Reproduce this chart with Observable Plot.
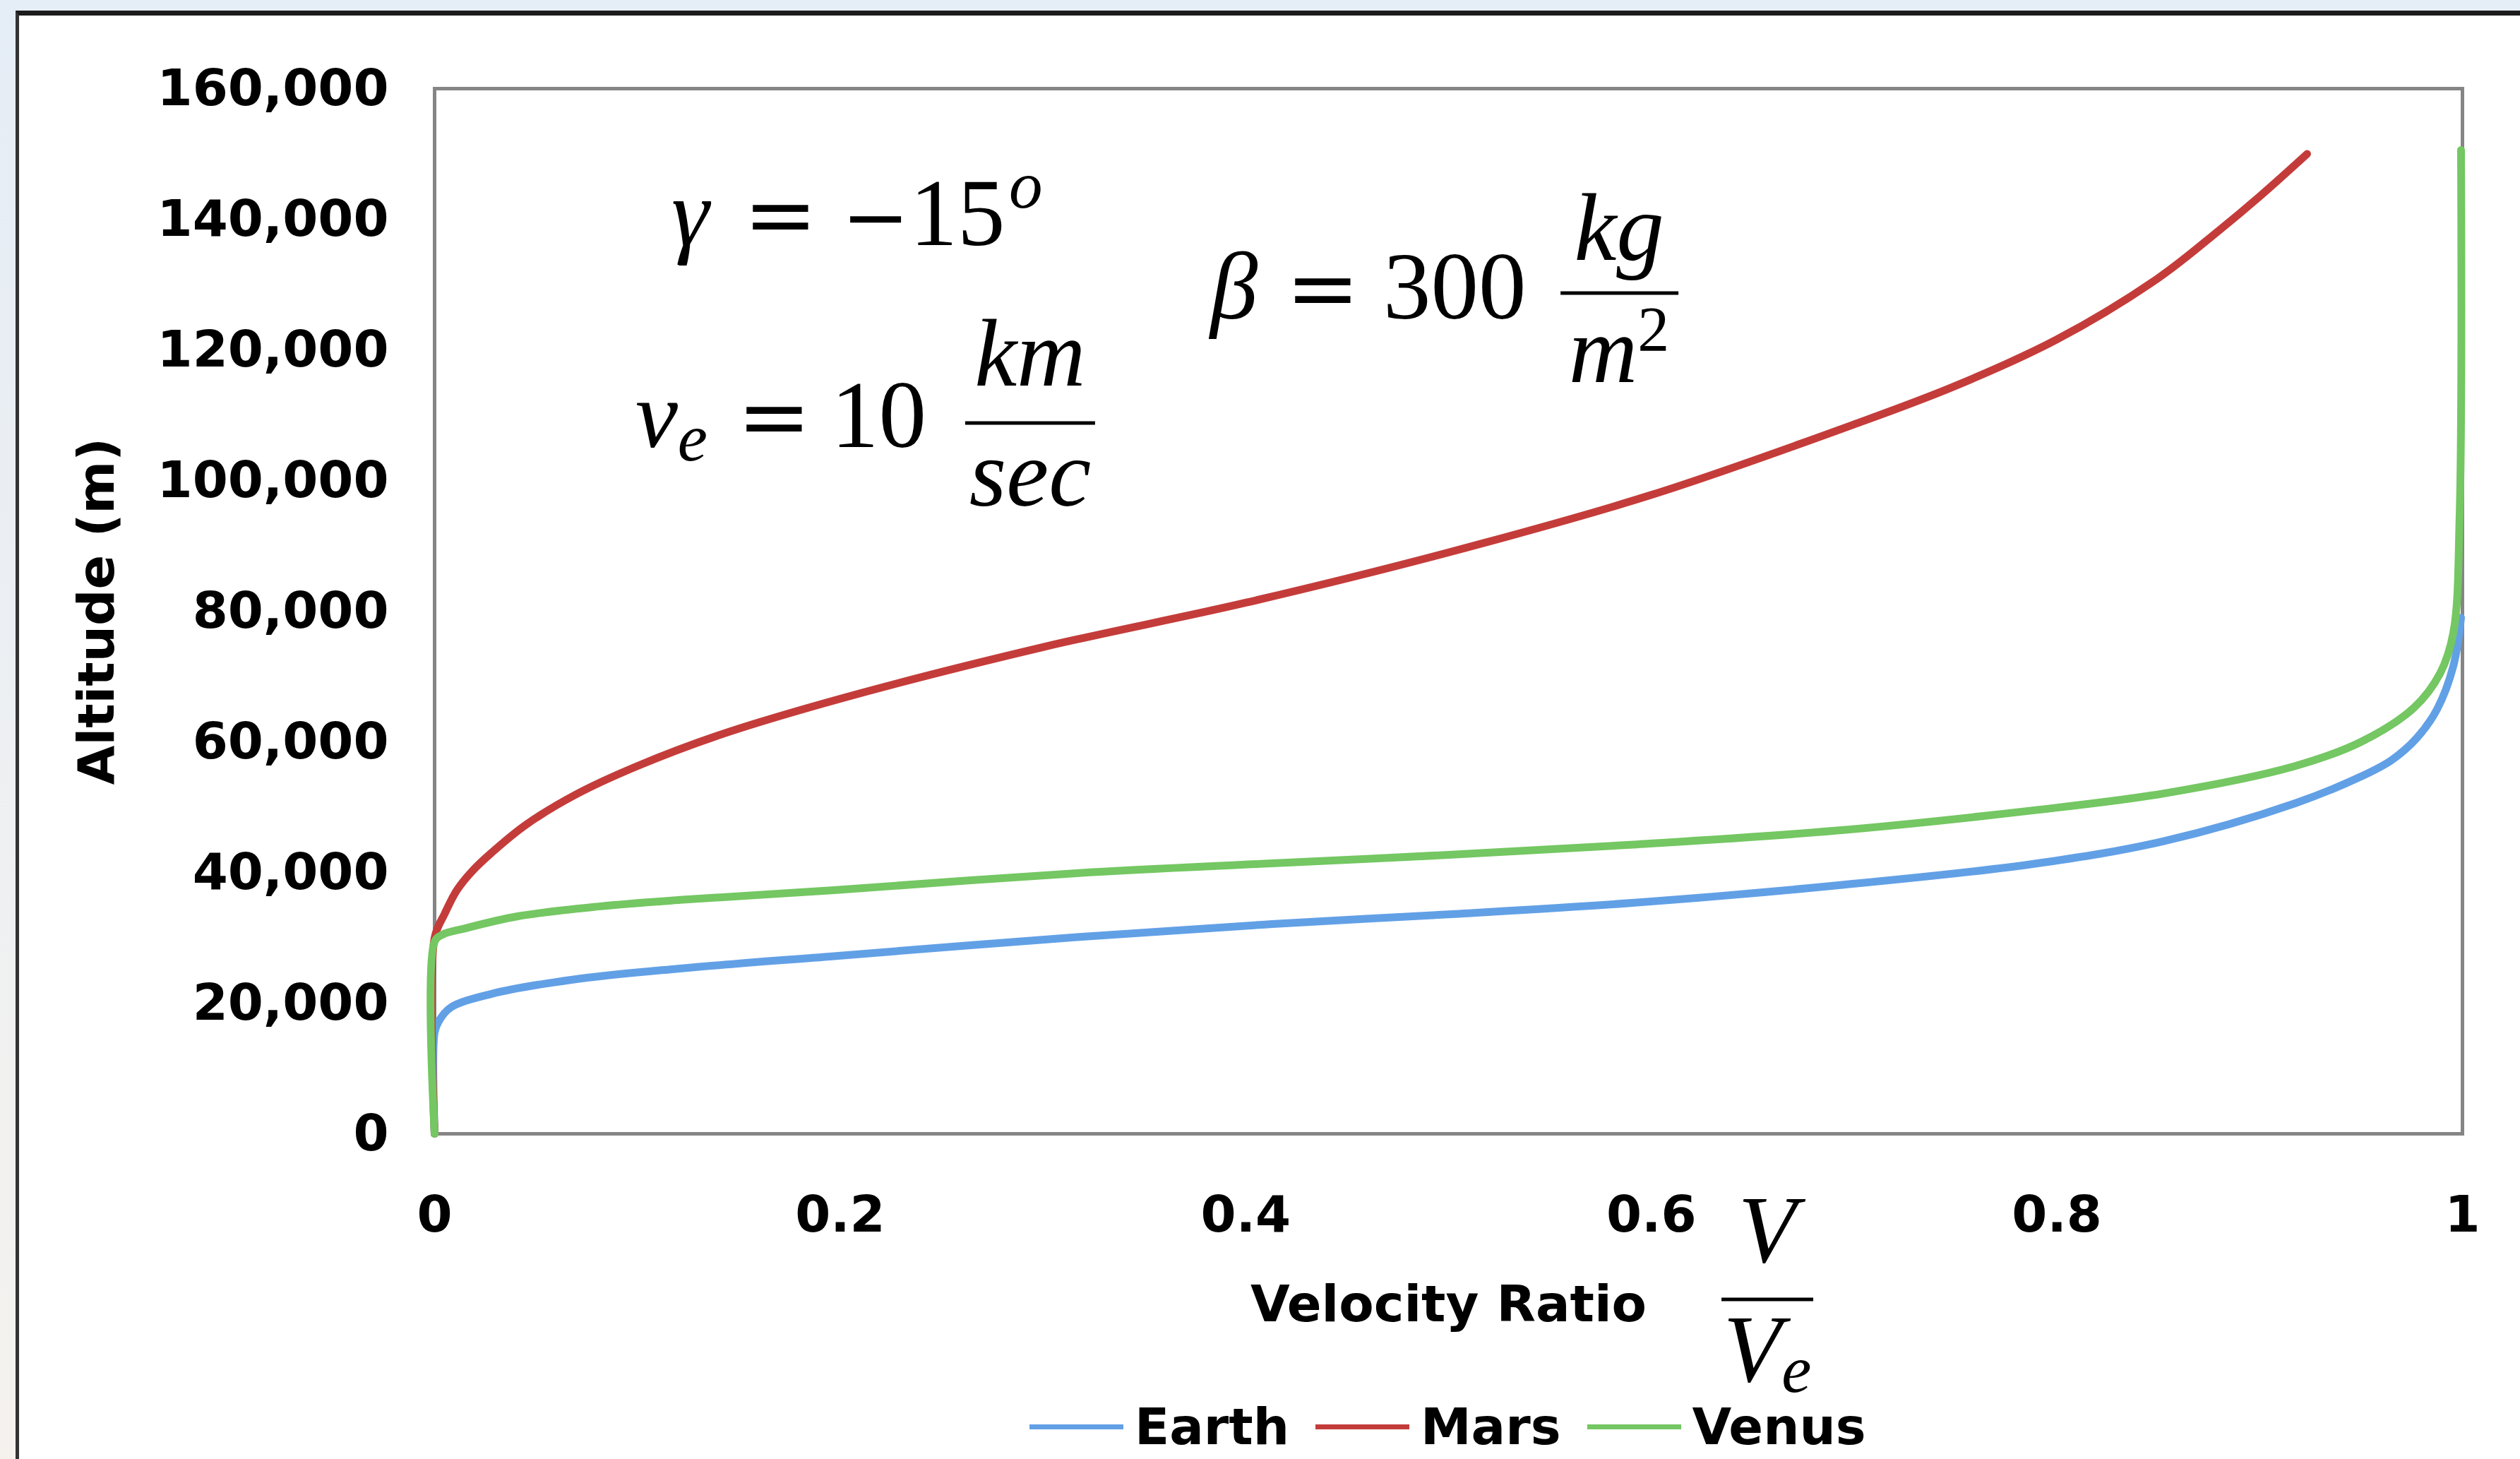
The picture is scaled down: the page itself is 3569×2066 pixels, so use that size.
<!DOCTYPE html>
<html>
<head>
<meta charset="utf-8">
<script src="https://cdn.jsdelivr.net/npm/d3@7"></script>
<script src="https://cdn.jsdelivr.net/npm/@observablehq/plot@0.6"></script>
<style>
  html, body { margin: 0; padding: 0; }
  body { width: 3569px; height: 2066px; overflow: hidden; position: relative;
         background: linear-gradient(#e5edf6, #f5f2ee); }
  #panel { position: absolute; left: 22px; top: 15px; right: 0; bottom: 0; background: #fff;
           border-top: 7px solid #1c1c1c; border-left: 5px solid #333; }
  #chart { position: absolute; left: 0; top: 0; }
  #legend { position: absolute; left: 1458px; top: 1992px; display: flex; align-items: center;
            font: bold 72px "DejaVu Sans", sans-serif; line-height: 56px; height: 56px; color: #000; white-space: nowrap; }
  #legend .sw { width: 133px; height: 7px; margin-right: 16px; }
  #legend .lab { margin-right: 37px; }
</style>
</head>
<body>
<div id="panel"></div>
<div id="chart"></div>
<div id="legend"></div>
<script>
// ---------------- data ----------------
const seriesNames = ["Earth", "Mars", "Venus"];
const seriesColors = ["#62a0e6", "#c43c3a", "#74c762"];

const earthRatio    = [0, 0, 0.002, 0.0078, 0.0278, 0.068, 0.121, 0.197, 0.3167, 0.413, 0.5, 0.593, 0.6907, 0.788, 0.8527, 0.9175, 0.95, 0.965, 0.9775, 0.9875, 0.9955, 0.9993];
const earthAltitude = [0, 15500, 17200, 19300, 21400, 23600, 25300, 27200, 30100, 32100, 33600, 35400, 38000, 41300, 44800, 50600, 54700, 57200, 60600, 65000, 71600, 79000];

const marsRatio     = [0, 0, 0.005, 0.011, 0.0185, 0.028, 0.045, 0.07, 0.1, 0.14, 0.2, 0.3, 0.4, 0.5, 0.6, 0.7, 0.75, 0.8, 0.85, 0.88, 0.9, 0.9234];
const marsAltitude  = [0, 30000, 33700, 37300, 40200, 43000, 47300, 52000, 56300, 61000, 66600, 74500, 81300, 89000, 97800, 108600, 114500, 121600, 131000, 138300, 143500, 150000];

const venusRatio    = [0, 0, 0.004, 0.0144, 0.041, 0.081, 0.121, 0.197, 0.3167, 0.413, 0.5, 0.593, 0.6907, 0.788, 0.8527, 0.9175, 0.95, 0.976, 0.989, 0.9955, 0.9986, 0.9993];
const venusAltitude = [0, 29400, 30500, 31400, 33300, 34800, 35800, 37300, 39900, 41400, 42700, 44300, 46400, 49500, 52100, 56300, 60000, 65200, 70500, 76700, 94600, 150600];

const xTicks = [0, 0.2, 0.4, 0.6, 0.8, 1];
const xTickLabels = ["0", "0.2", "0.4", "0.6", "0.8", "1"];
const yTicks = [0, 20000, 40000, 60000, 80000, 100000, 120000, 140000, 160000];
const yTickLabels = ["0", "20,000", "40,000", "60,000", "80,000", "100,000", "120,000", "140,000", "160,000"];

const xTitle = "Velocity Ratio";
const yTitle = "Altitude (m)";

// ---------------- table ----------------
const seriesData = [[earthRatio, earthAltitude], [marsRatio, marsAltitude], [venusRatio, venusAltitude]];
const rows = [];
seriesData.forEach(([xs, ys], k) => xs.forEach((x, i) => rows.push({planet: seriesNames[k], ratio: x, altitude: ys[i]})));
const xLab = new Map(xTicks.map((t, i) => [t, xTickLabels[i]]));
const yLab = new Map(yTicks.map((t, i) => [t, yTickLabels[i]]));

// ---------------- math annotations (custom render mark) ----------------
const SERIF = "'Liberation Serif', 'DejaVu Serif', serif";
const SYM = "'DejaVu Serif', serif";
function mathMark(index, scales) {
  const g = d3.create("svg:g").attr("fill", "#000").attr("font-weight", "normal");
  const t = (x, y, s, o = {}) => g.append("text")
    .attr("x", x).attr("y", y)
    .attr("font-family", o.family || SERIF)
    .attr("font-size", o.size || 135)
    .attr("font-style", o.italic ? "italic" : "normal")
    .attr("text-anchor", o.anchor || "start")
    .text(s);
  const bar = (x1, x2, y) => g.append("line").attr("x1", x1).attr("x2", x2).attr("y1", y).attr("y2", y)
    .attr("stroke", "#000").attr("stroke-width", 5);

  // gamma = -15^o
  let X = scales.x(0.117), Y = scales.y(136000);
  t(X, Y, "γ", {italic: true});
  t(X + 102, Y, "=", {family: SYM, size: 125});
  const m15 = t(X + 241, Y, "");
  m15.append("tspan").attr("font-family", SYM).attr("font-size", 115).text("−");
  m15.append("tspan").text("15");
  t(X + 478, Y - 53, "o", {italic: true, size: 95});

  // v_e = 10 km/sec
  X = scales.x(0.0992); Y = scales.y(105080);
  const vE = t(X, Y, "", {italic: true});
  vE.append("tspan").text("v");
  vE.append("tspan").attr("font-size", 95).attr("dy", 19).text("e");
  t(X + 144, Y, "=", {family: SYM, size: 125});
  t(X + 277, Y, "10");
  bar(X + 467, X + 651, Y - 34);
  t(X + 559, Y - 87, "km", {italic: true, anchor: "middle"});
  t(X + 559, Y + 83, "sec", {italic: true, anchor: "middle"});

  // beta = 300 kg/m^2
  X = scales.x(0.3827); Y = scales.y(124760);
  t(X, Y, "β", {italic: true});
  t(X + 107, Y, "=", {family: SYM, size: 125});
  t(X + 245, Y, "300");
  bar(X + 496, X + 663, Y - 36);
  t(X + 579, Y - 83, "kg", {italic: true, anchor: "middle"});
  const m2 = t(X + 579, Y + 90, "", {italic: true, anchor: "middle"});
  m2.append("tspan").text("m");
  m2.append("tspan").attr("font-style", "normal").attr("font-size", 90).attr("dy", -44).text("2");

  // V / V_e next to the x-axis title
  X = scales.x(0.6574); Y = scales.y(-25400);
  t(X, Y - 53, "V", {italic: true, anchor: "middle"});
  bar(X - 65, X + 65, Y);
  const ve = t(X, Y + 116, "", {italic: true, anchor: "middle"});
  ve.append("tspan").text("V");
  ve.append("tspan").attr("font-size", 95).attr("dy", 15).text("e");
  return g.node();
}

// ---------------- plot ----------------
const chart = Plot.plot({
  width: 3569,
  height: 2066,
  marginLeft: 615,
  marginRight: 82,
  marginTop: 125,
  marginBottom: 461,
  style: {background: "transparent", fontFamily: "'DejaVu Sans', sans-serif", fontSize: "72px",
          fontWeight: "bold", color: "#000", overflow: "visible"},
  x: {domain: [0, 1], ticks: xTicks, tickFormat: d => xLab.get(d), tickSize: 0, tickPadding: 87, label: null},
  y: {domain: [0, 160000], ticks: yTicks, tickFormat: d => yLab.get(d), tickSize: 0, tickPadding: 65, label: null},
  color: {domain: seriesNames, range: seriesColors},
  marks: [
    Plot.frame({stroke: "#858585", strokeWidth: 5}),
    Plot.line(rows, {x: "ratio", y: "altitude", z: "planet", stroke: "planet", strokeWidth: 11, curve: "catmull-rom"}),
    Plot.text([yTitle], {text: d => d, frameAnchor: "left", textAnchor: "middle", lineAnchor: "middle", dx: -478, rotate: -90}),
    Plot.text([xTitle], {text: d => d, frameAnchor: "bottom", textAnchor: "middle", dy: 242, lineAnchor: "middle"}),
    mathMark
  ]
});
document.getElementById("chart").appendChild(chart);

// ---------------- legend ----------------
const legend = d3.select("#legend");
seriesNames.forEach((name, i) => {
  legend.append("div").attr("class", "sw").style("background", seriesColors[i]);
  legend.append("span").attr("class", "lab").text(name);
});
</script>
</body>
</html>
